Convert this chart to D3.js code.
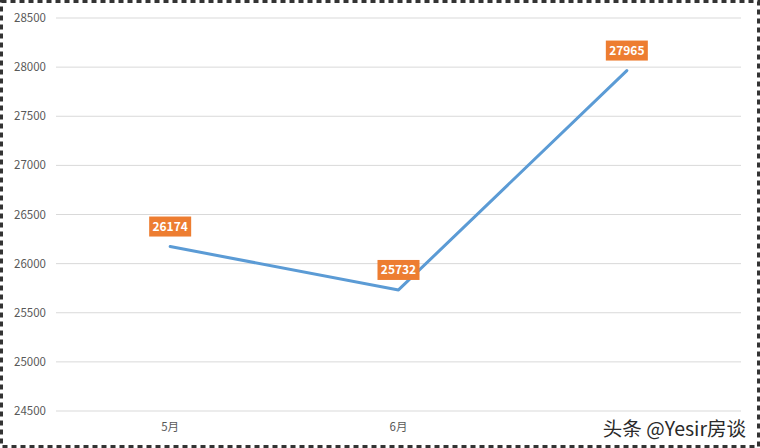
<!DOCTYPE html>
<html>
<head>
<meta charset="utf-8">
<script src="https://cdn.jsdelivr.net/npm/d3@7"></script>
<style>
  body { margin: 0; background: #fff; }
  svg { display: block; font-family: "Noto Sans CJK SC", "Noto Sans", sans-serif; }
</style>
</head>
<body>
<div id="chart"></div>
<script>
// data
const months = ["5月", "6月", "7月"];
const prices = [26174, 25732, 27965];
const yTicks = [24500, 25000, 25500, 26000, 26500, 27000, 27500, 28000, 28500];
// the last month label sits under the watermark in the picture
const shownMonths = ["5月", "6月"];

const width = 760, height = 448;
const margin = { top: 18, right: 19, bottom: 37, left: 56 };

const svg = d3.select("#chart").append("svg")
  .attr("width", width)
  .attr("height", height);

// dashed frame round the picture
svg.append("rect")
  .attr("x", 1.5).attr("y", 1.5)
  .attr("width", width - 3).attr("height", height - 3)
  .attr("fill", "none")
  .attr("stroke", "#333")
  .attr("stroke-width", 3)
  .attr("stroke-dasharray", "5,4");

const x = d3.scaleBand()
  .domain(months)
  .range([margin.left, width - margin.right]);

const y = d3.scaleLinear()
  .domain([24500, 28500])
  .range([height - margin.bottom, margin.top]);

// gridlines
svg.append("g")
  .selectAll("line")
  .data(yTicks)
  .join("line")
    .attr("x1", margin.left)
    .attr("x2", width - margin.right)
    .attr("y1", d => y(d))
    .attr("y2", d => y(d))
    .attr("stroke", "#d9d9d9")
    .attr("stroke-width", 1);

// y labels
svg.append("g")
  .selectAll("text")
  .data(yTicks)
  .join("text")
    .attr("x", 46)
    .attr("y", d => y(d))
    .attr("dy", "0.35em")
    .attr("text-anchor", "end")
    .attr("font-size", "11.5px")
    .attr("fill", "#595959")
    .text(d => d);

// x labels
svg.append("g")
  .selectAll("text")
  .data(shownMonths)
  .join("text")
    .attr("x", d => x(d) + x.bandwidth() / 2)
    .attr("y", height - margin.bottom + 20)
    .attr("text-anchor", "middle")
    .attr("font-size", "11.5px")
    .attr("fill", "#595959")
    .text(d => d);

// the line
const line = d3.line()
  .x((d, i) => x(months[i]) + x.bandwidth() / 2)
  .y(d => y(d));

svg.append("path")
  .datum(prices)
  .attr("d", line)
  .attr("fill", "none")
  .attr("stroke", "#5b9bd5")
  .attr("stroke-width", 3)
  .attr("stroke-linejoin", "round")
  .attr("stroke-linecap", "round");

// value labels on orange boxes
const labels = svg.append("g")
  .selectAll("g")
  .data(prices)
  .join("g")
    .attr("transform", (d, i) =>
      "translate(" + (x(months[i]) + x.bandwidth() / 2) + "," + (y(d) - 20) + ")");

labels.append("rect")
  .attr("x", -21)
  .attr("y", -10)
  .attr("width", 42)
  .attr("height", 20)
  .attr("fill", "#ed7d31");

labels.append("text")
  .attr("dy", "0.36em")
  .attr("text-anchor", "middle")
  .attr("font-size", "12px")
  .attr("font-weight", "bold")
  .attr("fill", "#fff")
  .text(d => d);

// watermark
svg.append("text")
  .attr("x", 746)
  .attr("y", 436)
  .attr("text-anchor", "end")
  .attr("font-size", "19.5px")
  .attr("fill", "#2a2a2a")
  .text("头条 @Yesir房谈");
</script>
</body>
</html>
